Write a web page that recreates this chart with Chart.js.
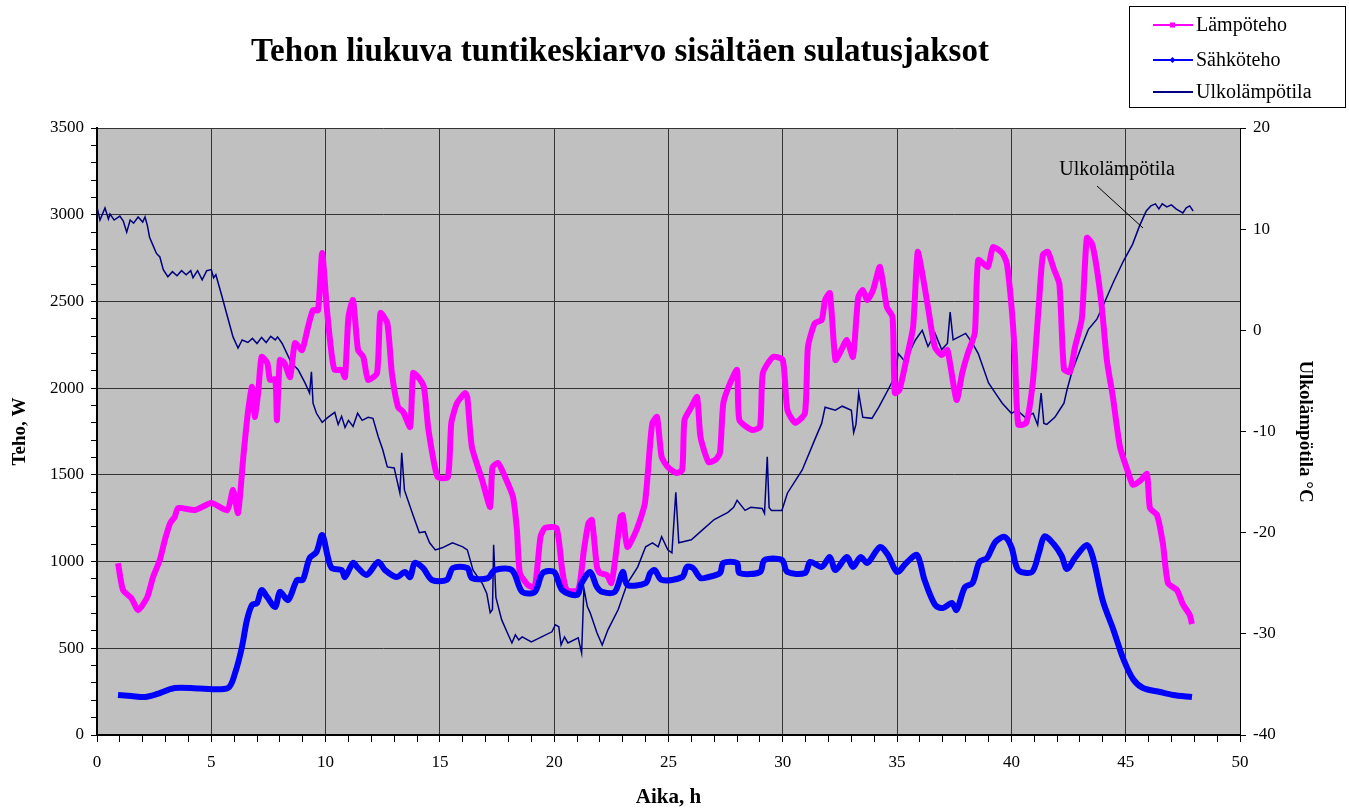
<!DOCTYPE html>
<html>
<head>
<meta charset="utf-8">
<script src="https://cdn.jsdelivr.net/npm/chart.js@4/dist/chart.umd.min.js"></script>
<style>
    body { margin: 0; background: #fff; }
    canvas { display: block; }
</style>
</head>
<body>
<canvas id="tehoChart" width="1349" height="811"></canvas>
<script>
// Lämpöteho (W), aika h
const heatHours = [0.92, 1.14, 1.5, 1.8, 2.2, 2.45, 2.75, 2.97, 3.2, 3.4, 3.55, 4.3, 5.0, 5.7, 5.95, 6.17, 6.4, 6.6, 6.78, 6.9,
    7.05, 7.2, 7.45, 7.57, 7.8, 7.87, 8.0, 8.2, 8.45, 8.66, 8.97, 9.23, 9.45, 9.67, 9.85, 10.06, 10.28, 10.4, 10.7, 10.85,
    11.0, 11.2, 11.42, 11.65, 11.86, 12.25, 12.4, 12.7, 12.9, 13.17, 13.4, 13.7, 13.83, 14.05, 14.3, 14.5, 14.9, 15.35, 15.5, 15.75,
    16.1, 16.2, 16.4, 16.85, 17.2, 17.3, 17.55, 17.85, 18.2, 18.37, 18.5, 18.85, 19.15, 19.4, 19.6, 20.1, 20.35, 20.55, 21.05, 21.3,
    21.5, 21.65, 21.87, 22.0, 22.3, 22.5, 22.65, 22.9, 23.0, 23.2, 23.6, 23.97, 24.2, 24.3, 24.5, 24.7, 24.97, 25.35, 25.6, 25.7,
    26.0, 26.25, 26.4, 26.75, 27.05, 27.25, 27.4, 27.7, 28.0, 28.1, 28.65, 29.0, 29.13, 29.57, 30.0, 30.2, 30.55, 30.97, 31.1, 31.4,
    31.7, 31.85, 32.06, 32.3, 32.5, 32.8, 33.07, 33.3, 33.5, 33.7, 33.95, 34.25, 34.55, 34.8, 34.9, 35.1, 35.4, 35.7, 35.9, 36.1,
    36.35, 36.65, 36.95, 37.2, 37.6, 37.85, 38.1, 38.4, 38.55, 38.97, 39.2, 39.6, 39.8, 40.0, 40.15, 40.3, 40.65, 40.95, 41.2, 41.38,
    41.6, 41.85, 42.1, 42.3, 42.56, 42.78, 43.08, 43.3, 43.53, 43.74, 43.96, 44.18, 44.44, 44.75, 45.1, 45.32, 45.63, 45.93, 46.06, 46.37,
    46.63, 46.85, 47.24, 47.5, 47.8, 47.9];
const heatW = [990, 835, 790, 720, 795, 910, 1010, 1125, 1222, 1257, 1309, 1297, 1338, 1297, 1413, 1280, 1603, 1857, 2007, 1834,
    1972, 2180, 2145, 2047, 2050, 1816, 2162, 2145, 2064, 2260, 2220, 2352, 2450, 2450, 2779, 2450, 2180, 2105, 2105, 2064,
    2410, 2508, 2220, 2180, 2047, 2087, 2433, 2375, 2087, 1891, 1862, 1776, 2087, 2064, 2007, 1759, 1488, 1488, 1800, 1914,
    1972, 1949, 1661, 1470, 1315, 1545, 1568, 1488, 1372, 1182, 934, 865, 853, 1142, 1194, 1194, 951, 836, 836, 1067,
    1222, 1240, 969, 934, 923, 876, 992, 1257, 1268, 1084, 1182, 1338, 1684, 1800, 1834, 1603, 1545, 1511, 1528, 1816,
    1891, 1949, 1718, 1574, 1586, 1626, 1914, 2030, 2105, 1816, 1759, 1776, 2087, 2180, 2162, 1874, 1800, 1857, 2237, 2375,
    2393, 2508, 2548, 2162, 2203, 2278, 2180, 2525, 2566, 2508, 2566, 2699, 2468, 2410, 1972, 1989, 2162, 2352, 2785, 2664,
    2468, 2237, 2191, 2220, 1932, 2087, 2203, 2318, 2739, 2699, 2814, 2779, 2720, 2480, 2200, 1790, 1800, 2050, 2480, 2770,
    2785, 2690, 2600, 2110, 2093, 2237, 2399, 2866, 2831, 2687, 2462, 2157, 1949, 1661, 1517, 1442, 1465, 1505, 1309, 1269,
    1101, 876, 836, 755, 692, 640];

// Sähköteho (W)
const elecHours = [0.92, 1.5, 2.1, 2.6, 3.4, 4.5, 5.73, 6.04, 6.34, 6.56, 6.78, 7.0, 7.2, 7.44, 7.8, 8.0, 8.36, 8.75, 9.0, 9.3,
    9.6, 9.85, 10.1, 10.27, 10.7, 10.85, 11.2, 11.42, 11.8, 12.3, 12.6, 13.1, 13.47, 13.7, 13.9, 14.26, 14.65, 15.3, 15.57, 16.2,
    16.4, 17.1, 17.4, 18.15, 18.6, 19.15, 19.5, 20.0, 20.35, 21.0, 21.2, 21.57, 21.87, 22.1, 22.65, 23.0, 23.2, 24.0, 24.2, 24.4,
    24.7, 25.6, 25.8, 26.07, 26.4, 26.75, 27.25, 27.4, 28.0, 28.1, 29.0, 29.2, 29.96, 30.2, 30.97, 31.2, 31.7, 32.06, 32.3, 32.8,
    33.07, 33.4, 33.7, 34.25, 34.6, 35.0, 35.4, 35.87, 36.2, 36.66, 37.0, 37.4, 37.6, 37.97, 38.3, 38.6, 38.93, 39.3, 39.7, 40.0,
    40.3, 40.9, 41.2, 41.45, 41.85, 42.2, 42.43, 42.78, 43.3, 43.57, 44.0, 44.45, 44.88, 45.32, 45.76, 46.5, 47.07, 47.9];
const elecW = [231, 225, 219, 235, 271, 268, 271, 357, 507, 663, 750, 761, 836, 796, 738, 825, 778, 894, 894, 1020,
    1055, 1153, 1026, 963, 951, 911, 992, 963, 923, 998, 951, 911, 940, 911, 992, 963, 894, 894, 963, 963,
    905, 905, 951, 951, 825, 825, 934, 940, 836, 807, 876, 940, 853, 825, 825, 940, 865, 876, 934, 951,
    894, 911, 969, 963, 905, 911, 934, 992, 992, 934, 940, 1009, 1009, 940, 934, 998, 969, 1026, 951, 1026,
    969, 1026, 992, 1084, 1038, 940, 992, 1038, 894, 750, 732, 761, 721, 853, 876, 998, 1020, 1113, 1142, 1084,
    951, 940, 1049, 1145, 1101, 1032, 957, 1021, 1096, 1021, 773, 611, 444, 323, 271, 248, 231, 219];

// Ulkolämpötila (°C)
const tempHours = [0.0, 0.13, 0.35, 0.5, 0.57, 0.75, 1.0, 1.15, 1.3, 1.45, 1.6, 1.8, 2.0, 2.1, 2.2, 2.3, 2.45, 2.6, 2.75, 2.9,
    3.1, 3.3, 3.5, 3.7, 3.9, 4.1, 4.2, 4.4, 4.6, 4.8, 5.0, 5.1, 5.2, 5.45, 5.75, 5.95, 6.17, 6.35, 6.6, 6.8,
    7.0, 7.2, 7.4, 7.6, 7.8, 7.9, 8.1, 8.5, 8.8, 9.1, 9.3, 9.38, 9.45, 9.6, 9.85, 10.1, 10.4, 10.55, 10.7, 10.85,
    11.0, 11.2, 11.4, 11.6, 11.86, 12.07, 12.3, 12.5, 12.7, 13.0, 13.25, 13.33, 13.45, 13.8, 14.1, 14.35, 14.55, 14.8, 15.1, 15.55,
    16.0, 16.2, 16.45, 16.85, 17.05, 17.2, 17.3, 17.35, 17.45, 17.7, 17.95, 18.15, 18.3, 18.45, 18.6, 19.0, 19.45, 19.9, 20.05, 20.2,
    20.3, 20.45, 20.6, 21.05, 21.2, 21.3, 21.45, 21.57, 21.87, 22.1, 22.35, 22.8, 23.2, 23.65, 24.0, 24.3, 24.55, 24.7, 24.97, 25.15,
    25.32, 25.45, 26.0, 26.5, 27.0, 27.6, 27.85, 28.0, 28.35, 28.6, 29.1, 29.2, 29.32, 29.4, 29.5, 29.96, 30.2, 30.85, 31.4, 31.7,
    31.85, 32.3, 32.6, 33.0, 33.1, 33.2, 33.32, 33.5, 33.9, 34.2, 34.6, 34.9, 35.05, 35.35, 35.8, 36.1, 36.35, 36.66, 36.95, 37.2,
    37.32, 37.45, 38.0, 38.3, 38.55, 39.0, 39.3, 39.6, 40.0, 40.25, 40.6, 40.95, 41.15, 41.3, 41.42, 41.55, 41.9, 42.1, 42.3, 42.43,
    42.65, 43.0, 43.37, 43.74, 44.1, 44.45, 44.9, 45.3, 45.6, 45.9, 46.1, 46.3, 46.45, 46.6, 46.8, 47.0, 47.2, 47.5, 47.65, 47.8, 47.95];
const tempC = [12.2, 10.9, 12.1, 11.0, 11.5, 10.9, 11.3, 10.8, 9.7, 10.9, 10.6, 11.2, 10.7, 11.2, 10.4, 9.2, 8.4, 7.6, 7.25, 6.0,
    5.3, 5.8, 5.4, 5.9, 5.5, 5.9, 5.2, 5.9, 5.0, 5.9, 6.0, 5.2, 5.5, 3.5, 1.0, -0.65, -1.75, -0.95, -1.2, -0.8,
    -1.3, -0.7, -1.2, -0.6, -0.95, -0.65, -1.3, -3.2, -3.9, -5.2, -6.2, -4.1, -7.2, -8.2, -9.1, -8.6, -8.1, -9.3, -8.5, -9.6,
    -8.9, -9.5, -8.2, -8.9, -8.6, -8.7, -10.5, -11.8, -13.5, -13.6, -16.1, -12.1, -15.8, -18.1, -20.0, -19.9, -21.0, -21.7, -21.5, -21.0,
    -21.4, -21.7, -23.7, -25.0, -26.0, -27.9, -27.6, -21.2, -26.4, -28.6, -29.9, -30.9, -30.1, -30.6, -30.3, -30.8, -30.3, -29.8, -29.1, -29.3,
    -31.1, -30.3, -30.9, -30.4, -31.9, -25.5, -27.3, -27.9, -29.9, -31.1, -29.6, -27.6, -25.0, -23.4, -21.4, -21.0, -21.4, -20.4, -21.7, -22.0,
    -16.0, -21.0, -20.7, -19.7, -18.7, -18.0, -17.5, -16.8, -17.8, -17.5, -17.6, -18.1, -12.5, -17.5, -17.8, -17.8, -16.1, -13.8, -10.8, -9.2,
    -7.6, -7.9, -7.5, -7.9, -10.1, -9.3, -6.2, -8.6, -8.7, -7.6, -5.9, -4.6, -2.3, -3.1, -0.95, 0.0, -1.6, -0.3, -1.9, -1.3,
    1.8, -0.95, -0.3, -1.3, -2.3, -5.2, -6.2, -7.2, -8.2, -7.9, -8.6, -8.2, -9.35, -6.2, -9.2, -9.3, -8.6, -7.9, -7.2, -5.9,
    -4.1, -2.0, 0.1, 1.1, 2.9, 4.7, 6.85, 8.5, 10.3, 11.8, 12.3, 12.5, 12.0, 12.5, 12.2, 12.4, 12.0, 11.6, 12.1, 12.3, 11.8];

const leftTicks = [0, 500, 1000, 1500, 2000, 2500, 3000, 3500];
const rightTicks = [-40, -30, -20, -10, 0, 10, 20];
const hourTicks = [0, 5, 10, 15, 20, 25, 30, 35, 40, 45, 50];

const serif = '"Liberation Serif", "Times New Roman", serif';

function toPoints(xs, ys) {
    return xs.map((x, i) => ({ x: x, y: ys[i] }));
}

// Plot area background, title, legend box and annotation
const decorPlugin = {
    id: 'decor',
    beforeDraw(chart) {
        const { ctx, chartArea: a } = chart;
        ctx.save();
        ctx.fillStyle = '#c0c0c0';
        ctx.fillRect(a.left, a.top, a.right - a.left, a.bottom - a.top);
        ctx.restore();
    },
    afterDraw(chart) {
        const ctx = chart.ctx;
        ctx.save();
        // title
        ctx.fillStyle = '#000';
        ctx.font = 'bold 33px ' + serif;
        ctx.textAlign = 'center';
        ctx.textBaseline = 'middle';
        ctx.fillText('Tehon liukuva tuntikeskiarvo sisältäen sulatusjaksot', 620, 52);

        // legend
        ctx.fillStyle = '#fff';
        ctx.fillRect(1129, 6, 217, 102);
        ctx.strokeStyle = '#000';
        ctx.lineWidth = 1;
        ctx.strokeRect(1129.5, 6.5, 216, 101);
        const items = [
            { label: 'Lämpöteho', color: '#ff00ff', y: 25, marker: 'square' },
            { label: 'Sähköteho', color: '#0000ff', y: 60, marker: 'diamond' },
            { label: 'Ulkolämpötila', color: '#000080', y: 92, marker: null }
        ];
        ctx.font = '20px ' + serif;
        ctx.textAlign = 'left';
        items.forEach(it => {
            ctx.strokeStyle = it.color;
            ctx.lineWidth = 2;
            ctx.beginPath();
            ctx.moveTo(1153, it.y);
            ctx.lineTo(1193, it.y);
            ctx.stroke();
            ctx.fillStyle = it.color;
            if (it.marker === 'square') {
                ctx.fillRect(1170, it.y - 2.5, 5, 5);
            } else if (it.marker === 'diamond') {
                ctx.beginPath();
                ctx.moveTo(1172.5, it.y - 3);
                ctx.lineTo(1175.5, it.y);
                ctx.lineTo(1172.5, it.y + 3);
                ctx.lineTo(1169.5, it.y);
                ctx.closePath();
                ctx.fill();
            }
            ctx.fillStyle = '#000';
            ctx.fillText(it.label, 1196, it.y + 1);
        });

        // annotation for the temperature curve
        ctx.font = '20px ' + serif;
        ctx.textAlign = 'center';
        ctx.fillText('Ulkolämpötila', 1117, 170);
        ctx.strokeStyle = '#000';
        ctx.lineWidth = 1;
        ctx.beginPath();
        ctx.moveTo(1097, 186);
        ctx.lineTo(1143, 228);
        ctx.stroke();
        ctx.restore();
    }
};

const ctx = document.getElementById('tehoChart').getContext('2d');
new Chart(ctx, {
    type: 'line',
    data: {
        datasets: [{
            label: 'Lämpöteho',
            data: toPoints(heatHours, heatW),
            borderColor: '#ff00ff',
            borderWidth: 6,
            pointRadius: 0,
            tension: 0.2,
            yAxisID: 'y',
            order: 2
        }, {
            label: 'Sähköteho',
            data: toPoints(elecHours, elecW),
            borderColor: '#0000ff',
            borderWidth: 6,
            pointRadius: 0,
            tension: 0.3,
            yAxisID: 'y',
            order: 1
        }, {
            label: 'Ulkolämpötila',
            data: toPoints(tempHours, tempC),
            borderColor: '#000080',
            borderWidth: 1.5,
            pointRadius: 0,
            tension: 0,
            yAxisID: 'y2',
            order: 3
        }]
    },
    options: {
        responsive: false,
        animation: false,
        layout: {
            padding: { top: 128, right: 0, bottom: 0, left: 0 }
        },
        scales: {
            x: {
                type: 'linear',
                min: 0,
                max: 50,
                afterFit: s => { s.height = 76; },
                ticks: {
                    stepSize: 1,
                    autoSkip: false,
                    maxRotation: 0,
                    padding: 10,
                    color: '#000',
                    font: { family: serif, size: 17 },
                    callback: v => hourTicks.includes(v) ? String(v) : ''
                },
                grid: {
                    color: c => (c.tick && c.tick.value % 5 === 0) ? '#333' : 'rgba(0,0,0,0)',
                    tickColor: '#000',
                    tickLength: 7
                },
                border: { color: '#000', width: 2 },
                title: {
                    display: true,
                    text: 'Aika, h',
                    color: '#000',
                    font: { family: serif, size: 21, weight: 'bold' },
                    padding: { top: 0, bottom: 1 }
                }
            },
            y: {
                position: 'left',
                min: 0,
                max: 3500,
                afterFit: s => { s.width = 97; },
                ticks: {
                    stepSize: 100,
                    autoSkip: false,
                    padding: 7,
                    color: '#000',
                    font: { family: serif, size: 17 },
                    callback: v => leftTicks.includes(v) ? String(v) : ''
                },
                grid: {
                    color: c => (c.tick && c.tick.value % 500 === 0) ? '#333' : 'rgba(0,0,0,0)',
                    tickColor: '#000',
                    tickLength: 6
                },
                border: { color: '#000', width: 2 },
                title: {
                    display: true,
                    text: 'Teho, W',
                    color: '#000',
                    font: { family: serif, size: 19, weight: 'bold' },
                    padding: { top: 9, bottom: 0 }
                }
            },
            y2: {
                position: 'right',
                min: -40,
                max: 20,
                afterFit: s => { s.width = 109; },
                ticks: {
                    stepSize: 10,
                    padding: 7,
                    color: '#000',
                    font: { family: serif, size: 17 },
                    callback: v => rightTicks.includes(v) ? String(v) : ''
                },
                grid: {
                    drawOnChartArea: false,
                    color: '#000',
                    tickColor: '#000',
                    tickLength: 6
                },
                border: { color: '#000', width: 1 },
                title: {
                    display: true,
                    text: 'Ulkolämpötila °C',
                    color: '#000',
                    font: { family: serif, size: 19, weight: 'bold' },
                    padding: { top: 33, bottom: 0 }
                }
            }
        },
        plugins: {
            legend: { display: false },
            tooltip: { enabled: false }
        }
    },
    plugins: [decorPlugin]
});
</script>
</body>
</html>
